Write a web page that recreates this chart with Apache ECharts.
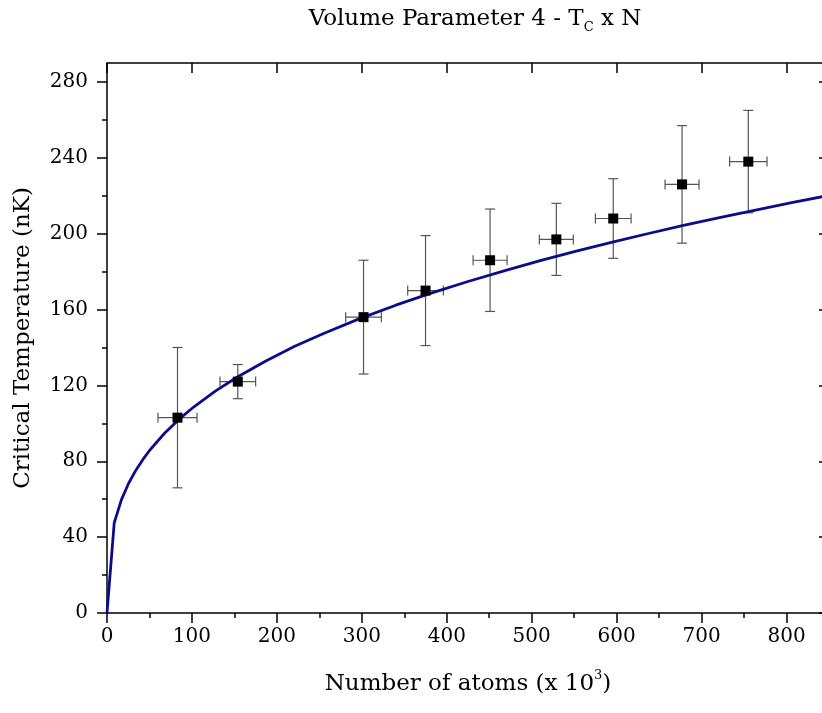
<!DOCTYPE html>
<html>
<head>
<meta charset="utf-8">
<script src="https://cdn.jsdelivr.net/npm/echarts@6/dist/echarts.min.js"></script>
<style>
  html, body { margin: 0; padding: 0; background: #fff; }
  #chart { width: 822px; height: 713px; }
</style>
</head>
<body>
<div id="chart"></div>
<script>
// measured points (N in units of 10^3, Tc in nK)
const atomsN = [83, 154, 302, 375, 451, 529, 596, 677, 755];
const atomsErr = [23, 21, 21, 21, 20, 20, 21, 20, 22];
const tempTc = [103, 122, 156, 170, 186, 197, 208, 226, 238];
const tempErr = [37, 9, 30, 29, 27, 19, 21, 31, 27];

// fitted curve
const fitN = [0, 8.5, 17, 25.5, 34, 42.5, 51, 68, 85, 102, 127.5, 153, 187, 221, 255,
  297.5, 340, 382.5, 425, 467.5, 510, 552.5, 595, 637.5, 680, 722.5, 765, 807.5, 850];
const fitT = [0, 47.5, 59.8, 68.4, 75.3, 81.1, 86.2, 94.9, 102.2, 108.6, 117.0, 124.3, 132.9, 140.6, 147.4,
  155.2, 162.3, 168.8, 174.8, 180.4, 185.8, 190.8, 195.5, 200.1, 204.5, 208.6, 212.6, 216.5, 220.2];

// tick positions
const xMajorTicks = [0, 100, 200, 300, 400, 500, 600, 700, 800];
const xMinorTicks = [50, 150, 250, 350, 450, 550, 650, 750];
const yMajorTicks = [0, 40, 80, 120, 160, 200, 240, 280];
const yMinorTicks = [20, 60, 100, 140, 180, 220, 260];

const FONT = 'DejaVu Serif';

const chart = echarts.init(document.getElementById('chart'));

const pointData = atomsN.map((n, i) => [n, tempTc[i], atomsErr[i], tempErr[i]]);
const fitData = fitN.map((n, i) => [n, fitT[i]]);

// helper for the tick-only axes
const tickAxis = (position, values, len, inside, extra) => Object.assign({
  type: 'value',
  position: position,
  min: 0,
  axisLine: { show: false },
  axisLabel: { show: false },
  splitLine: { show: false },
  axisTick: {
    show: true,
    inside: inside,
    length: len,
    customValues: values,
    lineStyle: { color: '#000', width: 1.5 }
  }
}, extra);

const renderErrorBar = (params, api) => {
  const x = api.value(0);
  const y = api.value(1);
  const dx = api.value(2);
  const dy = api.value(3);
  const top = api.coord([x, y + dy]);
  const bottom = api.coord([x, y - dy]);
  const left = api.coord([x - dx, y]);
  const right = api.coord([x + dx, y]);
  const style = { stroke: '#555', lineWidth: 1.2 };
  const cap = 5;
  return {
    type: 'group',
    children: [
      { type: 'line', shape: { x1: top[0], y1: top[1], x2: bottom[0], y2: bottom[1] }, style: style },
      { type: 'line', shape: { x1: top[0] - cap, y1: top[1], x2: top[0] + cap, y2: top[1] }, style: style },
      { type: 'line', shape: { x1: bottom[0] - cap, y1: bottom[1], x2: bottom[0] + cap, y2: bottom[1] }, style: style },
      { type: 'line', shape: { x1: left[0], y1: left[1], x2: right[0], y2: right[1] }, style: style },
      { type: 'line', shape: { x1: left[0], y1: left[1] - cap, x2: left[0], y2: left[1] + cap }, style: style },
      { type: 'line', shape: { x1: right[0], y1: right[1] - cap, x2: right[0], y2: right[1] + cap }, style: style }
    ]
  };
};

const option = {
  backgroundColor: '#fff',
  animation: false,
  title: {
    text: '{a|Volume Parameter 4 - T}{s|C}{a| x N}',
    left: 470,
    textAlign: 'center',
    top: -1,
    textStyle: {
      fontWeight: 'normal',
      rich: {
        a: { fontFamily: FONT, fontSize: 23, fontWeight: 'normal', color: '#000', lineHeight: 30 },
        s: { fontFamily: FONT, fontSize: 13, fontWeight: 'normal', color: '#000', lineHeight: 12, verticalAlign: 'bottom' }
      }
    }
  },
  grid: {
    left: 107,
    top: 63,
    right: -7,
    bottom: 100,
    containLabel: false,
    outerBoundsMode: 'none'
  },
  xAxis: [
    {
      type: 'value',
      position: 'bottom',
      min: 0,
      max: 850,
      interval: 100,
      name: '{a|Number of atoms (x 10}{p|3}{a|)}',
      nameLocation: 'middle',
      nameGap: 56,
      nameTextStyle: {
        rich: {
          a: { fontFamily: FONT, fontSize: 23, color: '#000', lineHeight: 30 },
          p: { fontFamily: FONT, fontSize: 13, color: '#000', lineHeight: 14, verticalAlign: 'top' }
        }
      },
      axisLine: { show: true, onZero: false, lineStyle: { color: '#000', width: 1.5 } },
      axisTick: { show: true, length: 10, customValues: xMajorTicks, lineStyle: { color: '#000', width: 1.5 } },
      axisLabel: {
        customValues: xMajorTicks,
        margin: 14,
        fontFamily: FONT,
        fontSize: 20,
        color: '#000'
      },
      splitLine: { show: false }
    },
    tickAxis('bottom', xMinorTicks, 5, false, { max: 850 }),
    {
      type: 'value',
      position: 'top',
      min: 0,
      max: 850,
      axisLine: { show: true, onZero: false, lineStyle: { color: '#000', width: 1.5 } },
      axisLabel: { show: false },
      splitLine: { show: false },
      axisTick: { show: true, inside: true, length: 10, customValues: xMajorTicks, lineStyle: { color: '#000', width: 1.5 } }
    },
    tickAxis('top', xMinorTicks, 5, true, { max: 850 })
  ],
  yAxis: [
    {
      type: 'value',
      position: 'left',
      min: 0,
      max: 290,
      interval: 40,
      name: 'Critical Temperature (nK)',
      nameLocation: 'middle',
      nameGap: 72,
      nameTextStyle: { fontFamily: FONT, fontSize: 23, color: '#000' },
      axisLine: { show: true, onZero: false, lineStyle: { color: '#000', width: 1.5 } },
      axisTick: { show: true, length: 10, customValues: yMajorTicks, lineStyle: { color: '#000', width: 1.5 } },
      axisLabel: {
        customValues: yMajorTicks,
        margin: 19,
        fontFamily: FONT,
        fontSize: 20,
        color: '#000'
      },
      splitLine: { show: false }
    },
    tickAxis('left', yMinorTicks, 5, false, { max: 290 }),
    {
      type: 'value',
      position: 'right',
      min: 0,
      max: 290,
      axisLine: { show: true, onZero: false, lineStyle: { color: '#000', width: 1.5 } },
      axisLabel: { show: false },
      splitLine: { show: false },
      axisTick: { show: true, inside: true, length: 10, customValues: yMajorTicks, lineStyle: { color: '#000', width: 1.5 } }
    },
    tickAxis('right', yMinorTicks, 5, true, { max: 290 })
  ],
  series: [
    {
      name: 'error',
      type: 'custom',
      renderItem: renderErrorBar,
      data: pointData,
      z: 2
    },
    {
      name: 'fit',
      type: 'line',
      data: fitData,
      showSymbol: false,
      smooth: false,
      lineStyle: { color: '#0c0c8a', width: 2.8 },
      z: 3
    },
    {
      name: 'Tc',
      type: 'scatter',
      data: pointData.map(d => [d[0], d[1]]),
      symbol: 'rect',
      symbolSize: 10,
      itemStyle: { color: '#000', opacity: 1 },
      z: 4
    }
  ]
};

chart.setOption(option);
</script>
</body>
</html>
